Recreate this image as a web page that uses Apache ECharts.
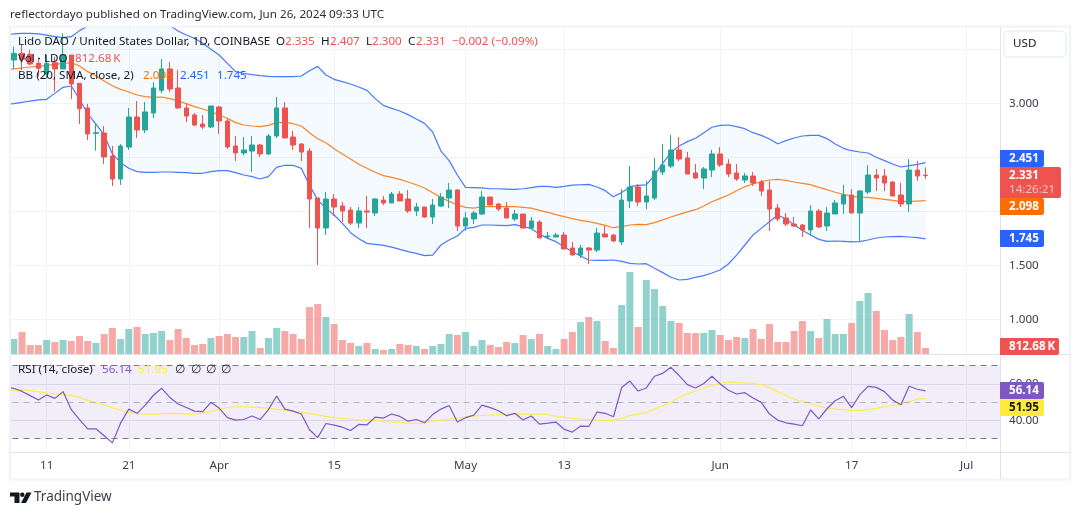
<!DOCTYPE html>
<html>
<head>
<meta charset="utf-8">
<style>html,body{margin:0;padding:0;background:#fff}#chart{width:1080px;height:515px}</style>
<script src="https://cdn.jsdelivr.net/npm/echarts@6/dist/echarts.min.js"></script>
</head>
<body>
<div id="chart"></div>
<script>
// LDO/USD daily candles, first session 2024-03-06 (sits just left of the pane)
const opens = [3.350,3.401,3.463,3.453,3.370,3.271,3.376,3.318,3.447,3.185,2.957,
2.722,2.725,2.512,2.299,2.595,2.873,2.753,2.910,3.120,3.318,
3.142,2.957,2.892,2.808,2.781,2.966,2.836,2.605,2.540,2.558,
2.614,2.531,2.697,2.957,2.688,2.623,2.558,2.123,1.845,2.114,
2.049,2.012,1.891,2.003,1.984,2.104,2.077,2.160,2.114,2.003,
2.040,1.947,2.049,2.123,2.197,1.864,1.929,1.975,2.132,2.067,
2.030,1.929,1.975,1.845,1.901,1.762,1.762,1.780,1.660,1.595,
1.660,1.641,1.790,1.780,1.716,2.095,2.225,2.086,2.123,2.364,
2.419,2.568,2.494,2.355,2.308,2.382,2.531,2.438,2.355,2.290,
2.327,2.271,2.197,2.031,1.938,1.882,1.873,1.827,2.003,1.864,
1.975,2.068,2.151,1.984,2.179,2.336,2.327,2.271,2.151,2.068,
2.382,2.335];
const closes = [3.401,3.463,3.407,3.364,3.324,3.370,3.318,3.447,3.179,2.950,2.716,
2.728,2.503,2.299,2.605,2.873,2.753,2.920,3.142,3.318,3.132,
2.957,2.882,2.799,2.781,2.975,2.836,2.595,2.540,2.568,2.614,
2.531,2.697,2.957,2.679,2.614,2.549,2.114,1.845,2.114,2.040,
2.003,1.891,2.003,1.993,2.114,2.077,2.160,2.095,2.003,2.040,
1.947,2.058,2.132,2.197,1.864,1.938,1.984,2.132,2.058,2.021,
1.938,1.975,1.845,1.910,1.753,1.771,1.780,1.651,1.595,1.660,
1.641,1.799,1.762,1.725,2.104,2.225,2.086,2.142,2.373,2.429,
2.568,2.484,2.345,2.308,2.392,2.531,2.429,2.345,2.299,2.327,
2.262,2.188,2.021,1.929,1.882,1.864,1.827,2.003,1.855,1.984,
2.077,2.151,1.984,2.188,2.336,2.308,2.262,2.142,2.068,2.382,
2.327,2.331];
const highs = [3.470,3.524,3.546,3.494,3.426,3.447,3.432,3.648,3.447,3.185,2.994,
2.808,2.790,2.605,2.623,2.957,3.021,3.012,3.197,3.410,3.382,
3.308,2.994,2.910,2.892,2.975,2.975,2.864,2.697,2.688,2.697,
2.623,2.716,3.058,3.012,2.744,2.632,2.586,2.123,2.179,2.160,
2.086,2.040,2.040,2.141,2.123,2.141,2.179,2.188,2.197,2.077,
2.040,2.114,2.169,2.262,2.206,1.993,2.003,2.188,2.132,2.077,
2.086,2.012,1.975,1.947,1.919,1.808,1.799,1.808,1.716,1.688,
1.669,1.845,1.864,1.790,2.206,2.419,2.253,2.281,2.494,2.623,
2.706,2.688,2.549,2.438,2.410,2.568,2.595,2.484,2.438,2.355,
2.364,2.290,2.281,2.068,1.984,1.947,1.882,2.058,2.021,2.040,
2.105,2.244,2.207,2.197,2.429,2.392,2.392,2.281,2.262,2.484,
2.466,2.407];
const lows = [3.300,3.318,3.308,3.355,3.247,3.231,3.108,3.318,3.040,2.808,2.660,
2.561,2.438,2.234,2.244,2.568,2.679,2.725,2.864,3.092,3.105,
2.947,2.827,2.790,2.762,2.771,2.716,2.577,2.466,2.521,2.364,
2.503,2.521,2.679,2.679,2.568,2.466,1.845,1.503,1.780,1.956,
1.901,1.873,1.845,1.845,1.956,2.058,2.077,2.095,1.984,1.956,
1.938,1.882,2.040,2.030,1.817,1.817,1.882,1.966,2.058,2.003,
1.938,1.910,1.845,1.836,1.753,1.743,1.762,1.651,1.595,1.567,
1.512,1.623,1.762,1.716,1.688,2.030,2.049,2.021,2.105,2.336,
2.401,2.466,2.345,2.299,2.206,2.317,2.410,2.317,2.281,2.262,
2.234,2.142,1.818,1.910,1.864,1.855,1.762,1.771,1.845,1.818,
1.975,1.975,1.984,1.725,2.160,2.188,2.188,2.142,2.040,1.994,
2.281,2.300];

// Bollinger Bands (20, SMA, close, 2)
const bbUpper = [3.638,3.642,3.648,3.648,3.642,3.632,3.617,3.608,3.617,3.673,3.716,
3.75,3.78,3.80,3.81,3.82,3.82,3.81,3.79,3.75,3.72,
3.670,3.632,3.602,3.555,3.500,3.447,3.370,3.293,3.278,3.265,
3.256,3.250,3.247,3.247,3.247,3.253,3.302,3.342,3.262,3.222,
3.200,3.179,3.151,3.120,3.043,2.981,2.953,2.929,2.895,2.855,
2.814,2.734,2.558,2.469,2.336,2.222,2.219,2.216,2.209,2.209,
2.206,2.203,2.209,2.219,2.231,2.231,2.222,2.231,2.243,2.246,
2.249,2.225,2.191,2.135,2.173,2.228,2.240,2.244,2.336,2.444,
2.543,2.605,2.645,2.676,2.728,2.778,2.796,2.799,2.784,2.765,
2.728,2.703,2.669,2.626,2.654,2.679,2.697,2.703,2.703,2.673,
2.623,2.583,2.561,2.549,2.540,2.500,2.469,2.438,2.410,2.423,
2.435,2.451];
const bbBasis = [3.312,3.318,3.327,3.336,3.342,3.352,3.361,3.370,3.376,3.345,3.293,
3.253,3.206,3.163,3.129,3.105,3.077,3.061,3.055,3.058,3.043,
3.021,2.997,2.969,2.947,2.923,2.892,2.861,2.821,2.799,2.790,
2.784,2.796,2.821,2.824,2.811,2.790,2.728,2.672,2.635,2.580,
2.530,2.484,2.435,2.398,2.361,2.330,2.314,2.296,2.271,2.246,
2.216,2.172,2.129,2.092,2.058,2.037,2.030,2.043,2.043,2.043,
2.043,2.043,2.037,2.030,2.009,1.990,1.969,1.950,1.932,1.916,
1.904,1.888,1.870,1.848,1.858,1.873,1.879,1.876,1.895,1.920,
1.947,1.972,1.994,2.015,2.049,2.089,2.120,2.151,2.191,2.228,
2.253,2.274,2.290,2.296,2.287,2.271,2.259,2.247,2.222,2.200,
2.176,2.157,2.139,2.132,2.129,2.120,2.111,2.102,2.089,2.092,
2.095,2.098];
const bbLower = [2.990,2.997,3.009,3.021,3.031,3.037,3.092,3.148,3.160,3.037,2.901,
2.808,2.706,2.531,2.450,2.398,2.367,2.361,2.361,2.364,2.364,
2.361,2.358,2.352,2.352,2.367,2.376,2.376,2.358,2.336,2.321,
2.299,2.321,2.407,2.426,2.426,2.398,2.240,2.104,2.027,1.966,
1.888,1.802,1.746,1.703,1.694,1.685,1.669,1.648,1.626,1.611,
1.589,1.595,1.688,1.734,1.771,1.842,1.851,1.873,1.873,1.870,
1.867,1.876,1.858,1.839,1.787,1.749,1.719,1.672,1.626,1.586,
1.549,1.546,1.546,1.549,1.537,1.518,1.512,1.515,1.472,1.432,
1.389,1.364,1.370,1.389,1.404,1.429,1.457,1.512,1.595,1.688,
1.781,1.842,1.904,1.966,1.929,1.873,1.824,1.781,1.740,1.722,
1.725,1.722,1.716,1.719,1.734,1.753,1.762,1.765,1.768,1.762,
1.756,1.745];

// Volume in thousands of LDO
const volumes = [2032,2032,2980,1219,1219,1896,1625,1896,1761,2438,1761,
1490,2709,3522,2032,3386,3657,2709,2844,3115,1896,
3386,2167,1219,1355,2167,2438,2709,2303,2303,3115,
813,2167,3522,3115,2709,2032,6366,6773,5012,4064,
1896,1490,1084,1490,677,542,677,1355,1219,1084,
677,1084,1355,2709,2574,2980,1084,1896,1219,948,
1625,1490,2574,2032,2709,1084,677,2032,2980,4334,
5012,4470,1761,813,6637,11107,3657,10023,8804,6502,
4470,4199,2844,2844,2844,3251,2574,1896,2303,2167,
3386,2032,4064,1625,1625,3115,4470,3115,2167,4741,
2709,2709,4199,7179,8262,5824,3251,1896,2303,5418,
2980,812.68];

// RSI (14, close) and its moving average
const rsi = [58.0,57.5,55.8,53.5,51.1,53.8,52.0,55.7,45.8,40.3,35.3,
35.3,31.5,27.6,38.4,46.1,43.8,48.3,53.7,57.5,52.5,
48.9,47.0,45.0,44.7,49.8,46.7,41.4,40.1,40.4,42.3,
40.4,45.8,53.3,46.1,45.0,43.4,34.8,30.5,38.2,37.3,
36.2,34.4,37.7,37.5,41.7,41.2,43.4,42.1,39.5,40.4,
38.6,43.2,46.1,48.1,39.0,41.4,42.8,48.3,46.9,45.2,
42.5,43.8,40.1,42.3,37.9,38.4,39.0,35.1,33.5,36.8,
36.6,44.5,43.8,41.9,57.9,61.5,56.0,57.7,64.1,65.7,
69.0,64.5,59.5,57.7,60.1,64.1,59.9,56.4,54.4,55.1,
52.2,49.8,43.4,40.1,38.6,37.9,37.0,45.6,40.8,46.3,
50.7,53.1,46.9,54.0,58.6,58.0,55.7,51.1,48.5,58.6,
57.0,56.14];
const rsiMa = [56.3,56.4,56.6,56.2,55.7,54.9,54.4,54.2,53.6,52.4,50.9,
49.6,48.3,46.9,45.6,44.5,43.8,43.4,43.4,43.6,43.8,
43.6,43.4,43.4,43.9,44.8,46.0,47.0,47.4,47.4,47.2,
46.9,46.5,46.0,45.6,45.0,44.5,43.8,42.8,42.1,41.4,
41.0,40.4,40.2,40.1,39.9,39.5,39.0,38.8,38.4,38.1,
38.6,39.5,40.1,40.6,41.2,41.7,42.3,42.6,42.8,43.0,
43.2,43.4,43.4,43.4,43.4,43.0,42.3,41.7,41.2,40.6,
40.3,40.1,39.9,39.9,41.2,42.5,43.4,44.3,46.1,47.9,
50.0,52.7,54.4,56.0,57.7,59.0,60.2,61.0,60.6,60.4,
60.2,59.5,57.9,55.7,53.6,51.6,50.3,49.2,47.8,46.7,
46.1,45.8,45.4,45.4,45.8,46.5,47.4,48.1,48.9,50.3,
51.6,51.95];

// Time axis: one slot per day, with room after the last session
const firstDay = Date.UTC(2024, 2, 6);
const slotCount = 122;
const days = Array.from({length: slotCount}, (_, i) =>
  new Date(firstDay + i * 86400000).toISOString().slice(0, 10));
const timeTicks = {'2024-03-11':'11','2024-03-21':'21','2024-04-01':'Apr','2024-04-15':'15',
  '2024-05-01':'May','2024-05-13':'13','2024-06-01':'Jun','2024-06-17':'17','2024-07-01':'Jul'};

const priceTicks = [3, 1.5, 1];
const rsiTicks = [60, 40];
const lastChange = '\u22120.002 (\u22120.09%)';
const volumeLabel = '812.68\u2009K';

const UP = '#26a69a', DOWN = '#ef5350', BLUE = '#2962ff', ORANGE = '#ff6d00', PURPLE = '#7e57c2', YELLOW = '#ffeb3b';
const GRID = '#f0f3fa', FRAME = '#e0e3eb', INK = '#131722';
const FONT = '"Noto Sans", sans-serif';
const SIZE = '11.65px ';
const last = a => a[a.length - 1];
const f3 = v => v.toFixed(3), f2 = v => v.toFixed(2);

const LEFT = 1.486, RIGHT = 1080 - (LEFT + slotCount * 8.214);
const gridAt = (top, height) => ({left: LEFT, right: RIGHT, top, height, containLabel: false});
const hiddenX = i => ({type: 'category', gridIndex: i, data: days, show: false});

const isTick = (idx, val) => val in timeTicks;

const bandWidth = bbUpper.map((u, i) => u - bbLower[i]);
const lineOf = (name, data, color, opacity, z, xy) => ({
  name, type: 'line', data, xAxisIndex: xy, yAxisIndex: xy, showSymbol: false, symbol: 'none', clip: false, z,
  silent: true, lineStyle: {color, width: 1.2, opacity}, itemStyle: {color}
});
const legendText = (x, y, text, fill) => ({type: 'text', z: 60, silent: true, x, y,
  style: {text, fill, font: SIZE + FONT, textVerticalAlign: 'middle'}});

const option = {
  animation: false,
  backgroundColor: '#ffffff',
  textStyle: {fontFamily: FONT},
  grid: [gridAt(27, 425), gridAt(49.3, 270), gridAt(254, 100), gridAt(365.5, 73)],
  xAxis: [
    {type: 'category', gridIndex: 0, data: days,
      axisLine: {show: false}, axisTick: {show: false},
      axisLabel: {interval: isTick, formatter: v => timeTicks[v] || '', color: '#3a3e4a', fontSize: 11.65, fontFamily: FONT, margin: 8},
      splitLine: {show: true, interval: isTick, alignWithLabel: true, lineStyle: {color: GRID, width: 1}}},
    hiddenX(1), hiddenX(2), hiddenX(3)
  ],
  yAxis: [
    {type: 'value', gridIndex: 0, show: false, min: 0, max: 1},
    {type: 'value', gridIndex: 1, position: 'right', min: 1, max: 3.5, interval: 0.5,
      axisLine: {show: false}, axisTick: {show: false},
      axisLabel: {margin: 5.4, color: '#3a3e4a', fontSize: 11.65, fontFamily: FONT,
        formatter: v => priceTicks.includes(v) ? f3(v) : ''},
      splitLine: {lineStyle: {color: GRID, width: 1}}},
    {type: 'value', gridIndex: 2, show: false, min: 0, max: 13545},
    {type: 'value', gridIndex: 3, position: 'right', min: 30, max: 70, interval: 10,
      axisLine: {show: false}, axisTick: {show: false},
      axisLabel: {margin: 5.4, color: '#3a3e4a', fontSize: 11.65, fontFamily: FONT,
        formatter: v => rsiTicks.includes(v) ? f2(v) : ''},
      splitLine: {lineStyle: {color: ['transparent', '#e6e2f1', 'transparent', '#e6e2f1', 'transparent'], width: 1}}}
  ],
  series: [
    // Shaded channel between the outer bands
    {name: 'bandBase', type: 'line', data: bbLower, xAxisIndex: 1, yAxisIndex: 1, stack: 'bb', symbol: 'none',
      clip: false, silent: true, z: 1, lineStyle: {opacity: 0}},
    {name: 'bandFill', type: 'line', data: bandWidth, xAxisIndex: 1, yAxisIndex: 1, stack: 'bb', symbol: 'none',
      clip: false, silent: true, z: 1, lineStyle: {opacity: 0}, areaStyle: {color: 'rgba(33,150,243,0.05)', opacity: 1}},
    lineOf('Upper', bbUpper, BLUE, 0.85, 3, 1),
    lineOf('Lower', bbLower, BLUE, 0.85, 3, 1),
    lineOf('Basis', bbBasis, ORANGE, 0.85, 3, 1),
    {name: 'LDOUSD', type: 'candlestick', xAxisIndex: 1, yAxisIndex: 1, z: 4, silent: true, clip: false,
      barWidth: 5,
      data: opens.map((o, i) => [o, closes[i], lows[i], highs[i]]),
      itemStyle: {color: UP, color0: DOWN, borderColor: UP, borderColor0: DOWN, borderWidth: 1}},
    {name: 'Vol', type: 'bar', xAxisIndex: 2, yAxisIndex: 2, barWidth: 7, z: 2, silent: true,
      data: volumes.map((v, i) => ({value: v,
        itemStyle: {color: closes[i] >= opens[i] ? 'rgba(38,166,154,0.5)' : 'rgba(239,83,80,0.5)'}}))},
    lineOf('RSI MA', rsiMa, YELLOW, 0.9, 3, 3),
    Object.assign(lineOf('RSI', rsi, PURPLE, 1, 4, 3), {
      markArea: {silent: true, itemStyle: {color: 'rgba(126,87,194,0.1)'}, data: [[{yAxis: 70}, {yAxis: 30}]]},
      markLine: {silent: true, symbol: 'none', label: {show: false},
        data: [
          {yAxis: 70, lineStyle: {color: '#787b86', type: [6, 5], width: 1}},
          {yAxis: 50, lineStyle: {color: 'rgba(120,123,134,0.5)', type: [6, 5], width: 1}},
          {yAxis: 30, lineStyle: {color: '#787b86', type: [6, 5], width: 1}}
        ]}
    })
  ],
  graphic: {elements: [
    // Strips around the panes hide what runs past their edges
    {type: 'rect', z: 50, silent: true, shape: {x: 0, y: 0, width: 1080, height: 26}, style: {fill: '#fff'}},
    {type: 'rect', z: 50, silent: true, shape: {x: 0, y: 0, width: 9.5, height: 480}, style: {fill: '#fff'}},
    {type: 'rect', z: 50, silent: true, shape: {x: 1001, y: 27, width: 5, height: 452}, style: {fill: '#fff'}},
    // Pane separators and outer frame
    {type: 'rect', z: 51, silent: true, shape: {x: 10, y: 26.5, width: 1060, height: 453}, style: {fill: 'none', stroke: GRID, lineWidth: 2}},
    {type: 'line', z: 51, silent: true, shape: {x1: 1000.5, y1: 27, x2: 1000.5, y2: 479}, style: {stroke: FRAME, lineWidth: 1}},
    {type: 'line', z: 51, silent: true, shape: {x1: 10, y1: 354.5, x2: 1070, y2: 354.5}, style: {stroke: FRAME, lineWidth: 1}},
    {type: 'line', z: 51, silent: true, shape: {x1: 10, y1: 452.5, x2: 1070, y2: 452.5}, style: {stroke: FRAME, lineWidth: 1}},
    // Publication line
    legendText(10, 15, 'reflectordayo published on TradingView.com, Jun 26, 2024 09:33 UTC', '#2a2e39'),
    // Legend rows
    legendText(18, 42, 'Lido DAO / United States Dollar, 1D, COINBASE', INK),
    legendText(276, 42, 'O', INK), legendText(285, 42, f3(last(opens)), DOWN),
    legendText(321, 42, 'H', INK), legendText(330, 42, f3(last(highs)), DOWN),
    legendText(366, 42, 'L', INK), legendText(372, 42, f3(last(lows)), DOWN),
    legendText(408, 42, 'C', INK), legendText(416, 42, f3(last(closes)), DOWN),
    legendText(452, 42, lastChange, DOWN),
    legendText(18, 59, 'Vol \u00b7 LDO', INK), legendText(75, 59, volumeLabel, DOWN),
    legendText(18, 76, 'BB (20, SMA, close, 2)', INK),
    legendText(143, 76, f3(last(bbBasis)), ORANGE),
    legendText(180, 76, f3(last(bbUpper)), BLUE),
    legendText(217, 76, f3(last(bbLower)), BLUE),
    legendText(18, 370, 'RSI (14, close)', INK),
    legendText(102, 370, f2(last(rsi)), PURPLE),
    legendText(138, 370, f2(last(rsiMa)), YELLOW),
    legendText(175, 370, '\u2205', INK), legendText(191, 370, '\u2205', INK),
    legendText(206, 370, '\u2205', INK), legendText(221, 370, '\u2205', INK),
    // Currency button
    {type: 'rect', z: 60, silent: true, shape: {x: 1004, y: 31, width: 62, height: 26, r: 5}, style: {fill: '#fff', stroke: GRID, lineWidth: 2}},
    {type: 'text', z: 61, silent: true, x: 1013, y: 44, style: {text: 'USD', fill: INK, font: SIZE + FONT, textVerticalAlign: 'middle'}},
    // Price scale tags for the last session
    ...[
      [f3(last(bbUpper)), BLUE, '#fff', 150, 44],
      [f3(last(bbBasis)), ORANGE, '#fff', 198, 44],
      [f3(last(bbLower)), BLUE, '#fff', 230, 44],
      [volumeLabel, DOWN, '#fff', 338, 59],
      [f2(last(rsi)), PURPLE, '#fff', 382, 44],
      [f2(last(rsiMa)), YELLOW, INK, 399, 44]
    ].flatMap(([text, fill, ink, y, w]) => [
      {type: 'rect', z: 60, silent: true, shape: {x: 1000, y, width: w, height: 17, r: [0, 2, 2, 0]}, style: {fill}},
      {type: 'text', z: 61, silent: true, x: 1009, y: y + 8.5, style: {text, fill: ink, font: 'bold ' + SIZE + FONT, textVerticalAlign: 'middle'}}
    ]),
    {type: 'rect', z: 60, silent: true, shape: {x: 1000, y: 167, width: 61, height: 31, r: [0, 2, 2, 0]}, style: {fill: DOWN}},
    {type: 'text', z: 61, silent: true, x: 1009, y: 175.5, style: {text: f3(last(closes)), fill: '#fff', font: 'bold ' + SIZE + FONT, textVerticalAlign: 'middle'}},
    {type: 'text', z: 61, silent: true, x: 1009, y: 189.5, style: {text: '14:26:21', fill: 'rgba(255,255,255,0.65)', font: SIZE + FONT, textVerticalAlign: 'middle'}},
    // Wordmark
    {type: 'polygon', z: 60, silent: true, shape: {points: [[10, 492.5], [19.5, 492.5], [19.5, 503], [14.5, 503], [14.5, 496.5], [10, 496.5]]}, style: {fill: INK}},
    {type: 'circle', z: 60, silent: true, shape: {cx: 22.3, cy: 494.7, r: 2.2}, style: {fill: INK}},
    {type: 'polygon', z: 60, silent: true, shape: {points: [[26.5, 492.5], [31.5, 492.5], [26, 503], [21, 503]]}, style: {fill: INK}},
    {type: 'text', z: 60, silent: true, x: 34, y: 497.5, style: {text: 'TradingView', fill: '#3a3e4a', font: '13.5px ' + FONT, textVerticalAlign: 'middle'}}
  ]}
};

echarts.init(document.getElementById('chart'), null, {renderer: 'canvas'}).setOption(option);
</script>
</body>
</html>
